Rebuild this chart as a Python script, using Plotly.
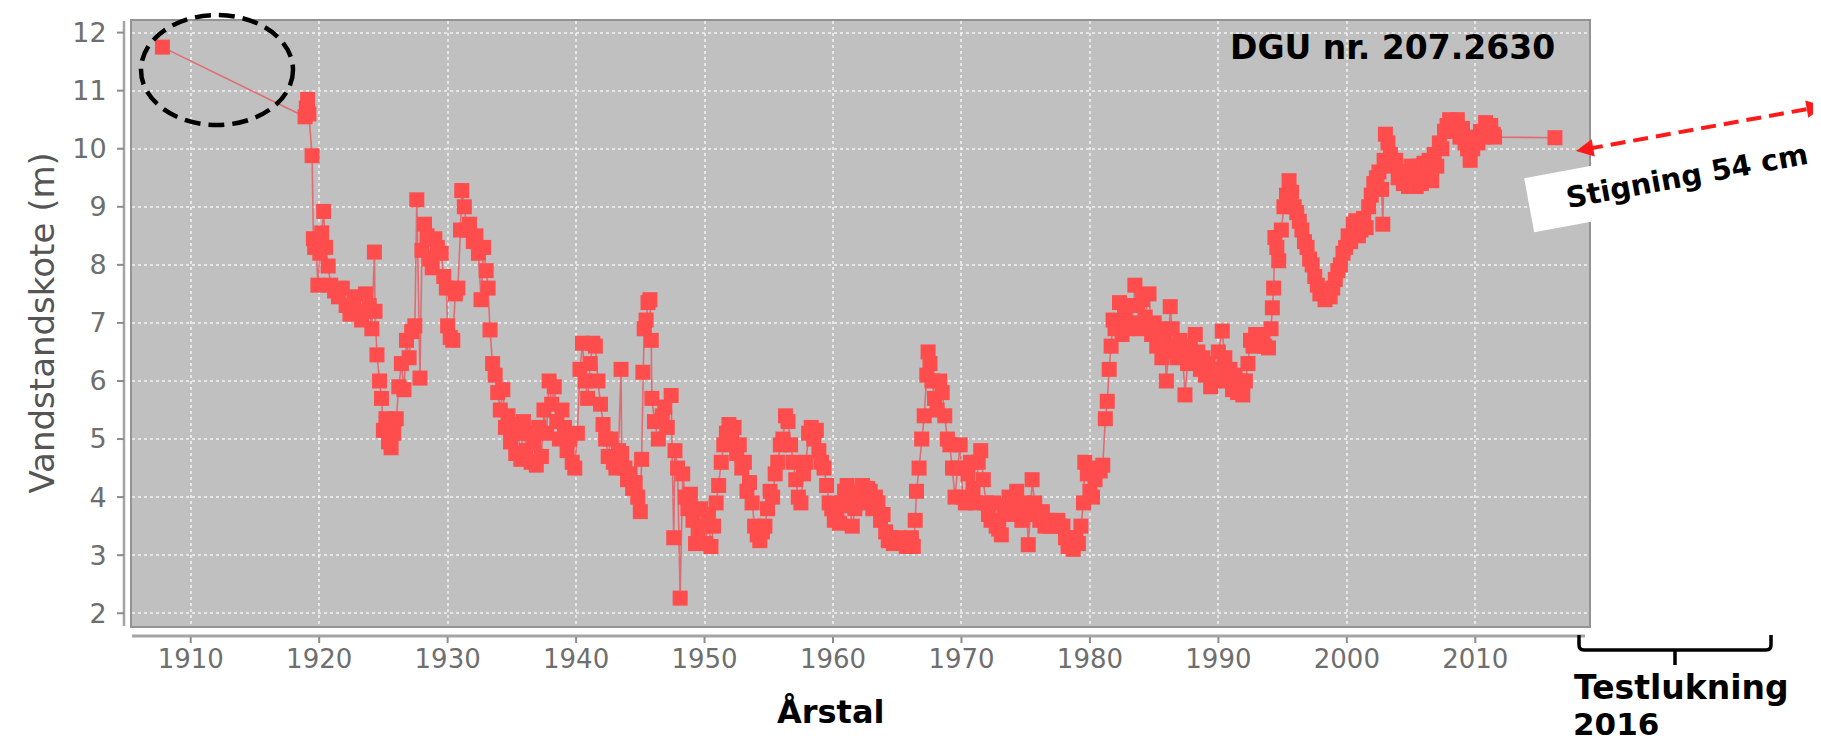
import plotly.graph_objects as go

# ---------------- data ----------------
years_a = [1907.8, 1918.9, 1919.0, 1919.1, 1919.2, 1919.45, 1919.55, 1919.65, 1919.75, 1919.9,
           1920.05, 1920.2, 1920.35, 1920.5, 1920.7, 1920.9]
levels_a = [11.75, 10.55, 10.7, 10.85, 10.6, 9.88, 8.45, 8.3, 8.4, 7.65,
            8.2, 8.55, 8.92, 8.3, 7.98, 7.65]

years_b = [1921.2, 1921.5, 1921.8, 1922.1, 1922.4, 1922.7, 1923.0, 1923.3, 1923.6, 1923.9,
           1924.1, 1924.3, 1924.35, 1924.5, 1924.7, 1924.85, 1925.0, 1925.2, 1925.4, 1925.6,
           1925.8, 1926.0, 1926.2, 1926.4, 1926.6, 1926.8, 1927.0, 1927.2, 1927.45, 1927.6,
           1927.85]
levels_b = [7.55, 7.45, 7.6, 7.3, 7.15, 7.45, 7.2, 7.05, 7.5, 7.3,
            6.9, 8.22, 7.2, 6.45, 6.0, 5.7, 5.15, 5.35, 4.95, 4.85,
            5.1, 5.35, 5.9, 6.3, 5.85, 6.7, 6.4, 6.85, 6.95, 9.12,
            6.05]

years_c = [1928.0, 1928.2, 1928.4, 1928.6, 1928.8, 1929.0, 1929.2, 1929.5, 1929.7, 1929.9,
           1930.0, 1930.2, 1930.4, 1930.6, 1930.8, 1931.0, 1931.1, 1931.3, 1931.5, 1931.7,
           1932.0, 1932.2, 1932.4, 1932.6, 1932.8, 1933.0, 1933.15, 1933.3, 1933.5, 1933.7]
levels_c = [8.25, 8.7, 8.5, 8.1, 7.95, 8.45, 8.3, 8.2, 7.8, 7.6,
            6.95, 6.75, 6.7, 7.5, 7.6, 8.6, 9.28, 9.0, 8.6, 8.7,
            8.4, 8.5, 8.2, 7.4, 8.3, 7.9, 7.6, 6.88, 6.3, 6.1]

years_d = [1933.9, 1934.1, 1934.3, 1934.5, 1934.7, 1934.9, 1935.1, 1935.3, 1935.5, 1935.7,
           1935.9, 1936.1, 1936.3, 1936.5, 1936.7, 1936.9, 1937.1, 1937.3, 1937.5, 1937.7,
           1937.9, 1938.1, 1938.3, 1938.5, 1938.7, 1938.9, 1939.1, 1939.3, 1939.5, 1939.7,
           1939.9, 1940.1, 1940.3, 1940.5, 1940.7, 1940.9, 1941.1, 1941.3, 1941.5, 1941.7,
           1941.9, 1942.1, 1942.3, 1942.5, 1942.7, 1942.9, 1943.1, 1943.3, 1943.5, 1943.55,
           1943.8, 1944.0, 1944.2, 1944.4, 1944.6, 1944.8, 1945.0, 1945.1, 1945.2, 1945.3,
           1945.45, 1945.6, 1945.75, 1945.85, 1945.9]
levels_d = [5.8, 5.5, 5.85, 5.2, 5.4, 4.95, 5.25, 4.75, 5.1, 4.65,
            5.3, 4.8, 5.1, 4.6, 4.95, 4.55, 5.2, 4.7, 5.5, 5.1,
            6.0, 5.6, 5.9, 5.3, 5.0, 5.5, 5.2, 4.8, 5.0, 4.6,
            4.5, 5.1, 6.2, 6.65, 6.0, 5.7, 6.3, 6.65, 6.6, 6.0,
            5.6, 5.25, 5.0, 4.7, 5.0, 4.6, 4.5, 4.8, 6.2, 4.75,
            4.5, 4.3, 4.4, 4.15, 4.25, 4.0, 3.75, 4.65, 6.15, 6.9,
            7.05, 7.35, 7.4, 6.7, 5.7]

years_e = [1946.1, 1946.4, 1946.7, 1946.9, 1947.1, 1947.4, 1947.6, 1947.7, 1947.9, 1948.1,
           1948.3, 1948.5, 1948.7, 1948.9, 1949.1, 1949.3, 1949.5, 1949.7, 1949.9, 1950.1,
           1950.3, 1950.5, 1950.7, 1950.9, 1951.1, 1951.3, 1951.5, 1951.7, 1951.9, 1952.1,
           1952.3, 1952.5, 1952.7, 1952.9, 1953.1, 1953.3, 1953.5, 1953.7, 1953.9, 1954.1,
           1954.3, 1954.5, 1954.7, 1954.9, 1955.1, 1955.3, 1955.5, 1955.7, 1955.9, 1956.1,
           1956.3, 1956.5, 1956.7, 1956.9, 1957.1, 1957.3, 1957.5, 1957.7, 1957.9, 1958.1,
           1958.3, 1958.5, 1958.7, 1958.9, 1959.1, 1959.3, 1959.5, 1959.7, 1959.9, 1960.1,
           1960.3, 1960.5, 1960.7]
levels_e = [5.3, 5.0, 5.4, 5.55, 5.2, 5.75, 3.3, 4.8, 4.5, 2.26,
            4.4, 4.0, 3.8, 4.05, 3.6, 3.2, 3.4, 3.8, 3.5, 3.2,
            3.7, 3.15, 3.5, 3.9, 4.2, 4.6, 4.9, 5.1, 5.25, 4.95,
            5.2, 4.75, 4.9, 4.5, 4.6, 4.1, 4.25, 3.9, 3.5, 3.35,
            3.25, 3.4, 3.5, 3.8, 4.1, 4.0, 4.4, 4.6, 4.9, 5.0,
            5.4, 5.3, 4.9, 4.6, 4.3, 4.0, 3.9, 4.4, 4.6, 5.1,
            5.2, 5.0, 5.15, 4.8, 4.6, 4.5, 4.2, 3.9, 3.8, 3.6,
            3.75, 3.55, 3.9]

years_f = [1960.9, 1961.1, 1961.3, 1961.5, 1961.7, 1961.9, 1962.1, 1962.3, 1962.5, 1962.7,
           1962.9, 1963.1, 1963.3, 1963.5, 1963.7, 1963.9, 1964.1, 1964.3, 1964.5, 1964.7,
           1964.9, 1965.1, 1965.3, 1965.5, 1965.7, 1965.9, 1966.1, 1966.25, 1966.4, 1966.5,
           1966.7, 1966.9, 1967.1, 1967.3, 1967.4, 1967.55, 1967.7, 1967.9, 1968.1, 1968.3,
           1968.5, 1968.7, 1968.9, 1969.1, 1969.3, 1969.5, 1969.7, 1969.9, 1970.1, 1970.3,
           1970.5, 1970.7, 1970.9, 1971.1, 1971.3, 1971.5, 1971.7, 1971.9, 1972.1, 1972.3,
           1972.5, 1972.7, 1972.9, 1973.1, 1973.3, 1973.5, 1973.7, 1973.9, 1974.1, 1974.3,
           1974.5, 1974.7, 1974.9, 1975.1, 1975.2, 1975.4, 1975.5, 1975.7, 1975.9, 1976.1,
           1976.3, 1976.5, 1976.7, 1976.9, 1977.1, 1977.3, 1977.5, 1977.7, 1977.9, 1978.1,
           1978.3, 1978.5, 1978.7, 1978.9, 1979.1, 1979.3, 1979.5, 1979.6, 1979.8, 1980.0,
           1980.2, 1980.4, 1980.6, 1980.8, 1981.0, 1981.2, 1981.35, 1981.5, 1981.65, 1981.8,
           1981.95]
levels_f = [4.1, 4.2, 3.85, 3.5, 3.8, 4.1, 4.0, 4.2, 3.9, 4.15,
            4.1, 3.8, 4.0, 3.9, 3.6, 3.7, 3.4, 3.25, 3.3, 3.2,
            3.25, 3.3, 3.2, 3.25, 3.15, 3.2, 3.3, 3.15, 3.6, 4.1,
            4.5, 5.0, 5.4, 6.1, 6.5, 6.3, 6.0, 5.7, 5.5, 6.0,
            5.8, 5.4, 5.0, 4.9, 4.5, 4.0, 4.5, 4.9, 4.0, 3.9,
            4.4, 4.6, 4.15, 3.9, 4.6, 4.8, 4.3, 3.9, 3.7, 3.6,
            3.9, 3.5, 3.45, 3.35, 3.7, 3.85, 4.0, 3.7, 3.9, 4.1,
            3.8, 3.6, 3.9, 3.7, 3.18, 3.8, 4.3, 3.9, 3.7, 3.6,
            3.75, 3.5, 3.6, 3.5, 3.55, 3.5, 3.6, 3.5, 3.5, 3.3,
            3.15, 3.2, 3.1, 3.3, 3.2, 3.5, 3.9, 4.6, 4.4, 4.1,
            4.0, 4.3, 4.5, 4.45, 4.55, 5.35, 5.65, 6.2, 6.6, 7.05,
            6.9]

years_g = [1982.1, 1982.3, 1982.5, 1982.7, 1982.9, 1983.1, 1983.3, 1983.5, 1983.7, 1983.9,
           1984.1, 1984.3, 1984.6, 1984.8, 1985.0, 1985.2, 1985.4, 1985.6, 1985.8, 1985.95,
           1986.1, 1986.25, 1986.4, 1986.6, 1986.8, 1987.0, 1987.2, 1987.4, 1987.6, 1987.8,
           1988.0, 1988.2, 1988.4, 1988.6, 1988.8, 1989.0, 1989.2, 1989.4, 1989.6, 1989.8,
           1990.0, 1990.3, 1990.5, 1990.7, 1990.9, 1991.1, 1991.3, 1991.5, 1991.7, 1991.9,
           1992.1, 1992.3, 1992.5, 1992.7, 1992.9, 1993.1, 1993.4, 1993.6, 1993.9, 1994.1,
           1994.2, 1994.3, 1994.4, 1994.55, 1994.7, 1994.9, 1995.1, 1995.3, 1995.5, 1995.7,
           1995.9, 1996.1, 1996.3, 1996.5, 1996.7, 1996.9, 1997.1, 1997.3, 1997.5, 1997.7,
           1997.9, 1998.1, 1998.3, 1998.5, 1998.7, 1998.9, 1999.1, 1999.3, 1999.5, 1999.7,
           1999.9, 2000.1, 2000.3, 2000.5, 2000.7, 2000.9, 2001.1, 2001.3, 2001.5, 2001.7,
           2001.9, 2002.1, 2002.3, 2002.5, 2002.7, 2002.8, 2002.9, 2003.0, 2003.2, 2003.4,
           2003.6, 2003.8, 2004.0, 2004.2, 2004.4, 2004.6, 2004.8, 2005.0, 2005.2, 2005.4,
           2005.6, 2005.8, 2006.0, 2006.2, 2006.4, 2006.6, 2006.8, 2007.0, 2007.2, 2007.4,
           2007.6, 2007.8, 2008.0, 2008.2, 2008.4, 2008.6, 2008.8, 2009.0, 2009.2, 2009.4,
           2009.6, 2009.8, 2010.0, 2010.2, 2010.4, 2010.6, 2010.8, 2011.0, 2011.2, 2011.4,
           2011.5, 2016.2]
levels_g = [7.0, 7.35, 6.8, 7.1, 6.9, 7.3, 7.0, 7.65, 7.3, 6.9,
            7.4, 7.1, 7.5, 6.8, 7.0, 6.6, 6.9, 6.4, 6.7, 6.0,
            6.5, 7.28, 6.9, 6.6, 6.4, 6.7, 6.5, 5.76, 6.3, 6.6,
            6.4, 6.8, 6.5, 6.2, 6.4, 6.1, 6.3, 5.9, 6.0, 6.2,
            6.5, 6.86, 6.4, 6.0, 6.2, 5.85, 6.1, 5.8, 6.0, 5.76,
            6.0, 6.3, 6.7, 6.6, 6.8, 6.65, 6.8, 6.6, 6.57, 6.9,
            7.26, 7.6, 8.47, 8.3, 8.07, 8.6, 9.0, 9.2, 9.45, 9.25,
            9.0, 8.9, 8.75, 8.6, 8.4, 8.3, 8.1, 8.0, 7.8, 7.65,
            7.5, 7.55, 7.4, 7.5, 7.45, 7.6, 7.75, 7.9, 8.0, 8.2,
            8.3, 8.5, 8.4, 8.7, 8.76, 8.5, 8.6, 8.8, 8.64, 9.0,
            9.2, 9.4, 9.5, 9.6, 9.3, 8.7, 9.8, 10.25, 10.1, 9.9,
            9.7, 9.8, 9.5, 9.6, 9.4, 9.6, 9.35, 9.7, 9.5, 9.35,
            9.7, 9.4, 9.75, 9.5, 9.8, 9.45, 9.9, 9.7, 10.1, 10.0,
            10.3, 10.4, 10.5, 10.45, 10.3, 10.5, 10.2, 10.35, 10.1, 10.0,
            9.8, 10.0, 10.2, 10.1, 10.3, 10.2, 10.45, 10.3, 10.4, 10.25,
            10.2, 10.19]

x_ticks = [1910, 1920, 1930, 1940, 1950, 1960, 1970, 1980, 1990, 2000, 2010]
y_ticks = [2, 3, 4, 5, 6, 7, 8, 9, 10, 11, 12]

years = years_a + years_b + years_c + years_d + years_e + years_f + years_g
levels = levels_a + levels_b + levels_c + levels_d + levels_e + levels_f + levels_g
assert len(years) == len(levels)

# ---------------- layout geometry ----------------
W, H = 1821, 741
L, R, T, B = 124, 240, 13, 123
PW, PH = W - L - R, H - T - B


def px(x):
    return (x - L) / PW


def py(y):
    return (H - B - y) / PH


RED = "#ff4c4c"
AXIS_GREY = "#a4a4a4"
GRID = "rgba(255,255,255,0.6)"

fig = go.Figure()
fig.add_trace(go.Scatter(
    x=years, y=levels, mode="lines+markers",
    line=dict(color="rgba(235,80,90,0.75)", width=1.6),
    marker=dict(symbol="square", size=15, color=RED, line=dict(width=0)),
    hoverinfo="skip", showlegend=False,
))

shapes = []
# offset axis lines (JFreeChart style)
shapes.append(dict(type="line", xref="paper", yref="paper", x0=0, x1=px(1577),
                   y0=py(628), y1=py(628), line=dict(color=AXIS_GREY, width=3)))
shapes.append(dict(type="line", xref="paper", yref="paper", x0=px(116), x1=px(116),
                   y0=0, y1=1, line=dict(color=AXIS_GREY, width=2.5)))
for t in x_ticks:
    shapes.append(dict(type="line", xref="x", yref="paper", x0=t, x1=t,
                       y0=py(629), y1=py(635), line=dict(color="#8c8c8c", width=2)))
for v in y_ticks:
    shapes.append(dict(type="line", xref="paper", yref="y", x0=px(109), x1=px(116),
                       y0=v, y1=v, line=dict(color="#8c8c8c", width=2)))

# dashed ellipse around the first measurement
shapes.append(dict(type="circle", xref="paper", yref="paper",
                   x0=px(133), x1=px(285), y0=py(117), y1=py(7),
                   line=dict(color="black", width=4.5, dash="16px,8px")))

# bracket under the axis ("Testlukning 2016")
bx0, bx1, bxm, btop, bbot, btip = 1571, 1763, 1667, 627, 642, 657
path = (f"M {px(bx0)},{py(btop)} L {px(bx0)},{py(bbot-5)} "
        f"Q {px(bx0)},{py(bbot)} {px(bx0+5)},{py(bbot)} "
        f"L {px(bx1-5)},{py(bbot)} Q {px(bx1)},{py(bbot)} {px(bx1)},{py(bbot-5)} "
        f"L {px(bx1)},{py(btop)} "
        f"M {px(bxm)},{py(bbot)} L {px(bxm)},{py(btip)}")
shapes.append(dict(type="path", xref="paper", yref="paper", path=path,
                   line=dict(color="black", width=3.5)))

# dashed red arrow shaft
ax0, ay0, ax1, ay1 = 1568, 143, 1816, 98
shapes.append(dict(type="line", xref="paper", yref="paper",
                   x0=px(ax0 + 12), y0=py(ay0 - 2.2), x1=px(ax1 - 12), y1=py(ay1 + 2.2),
                   line=dict(color="#ff1a1a", width=4, dash="15px,8px")))

annotations = [
    dict(text="Vandstandskote (m)", xref="paper", yref="paper", x=px(33), y=0.5,
         textangle=-90, showarrow=False, xanchor="center", yanchor="middle",
         font=dict(family="DejaVu Sans", size=34, color="#555555")),
    dict(text="<b>Årstal</b>", xref="paper", yref="paper", x=px(822), y=py(704),
         showarrow=False, xanchor="center", yanchor="middle",
         font=dict(family="DejaVu Sans", size=32, color="black")),
    dict(text="<b>DGU nr. 207.2630</b>", xref="paper", yref="paper", x=px(1549), y=py(40),
         showarrow=False, xanchor="right", yanchor="middle",
         font=dict(family="DejaVu Sans", size=33, color="black")),
    dict(text="<b>Stigning 54 cm</b>", xref="paper", yref="paper", x=px(1679), y=py(168),
         showarrow=False, xanchor="center", yanchor="middle", textangle=-10.5,
         bgcolor="white", borderpad=10, width=300, align="center",
         font=dict(family="DejaVu Sans", size=29, color="black")),
    dict(text="<b>Testlukning</b>", xref="paper", yref="paper", x=px(1564), y=py(679),
         showarrow=False, xanchor="left", yanchor="middle",
         font=dict(family="DejaVu Sans", size=33, color="black")),
    dict(text="<b>2016</b>", xref="paper", yref="paper", x=px(1564), y=py(716),
         showarrow=False, xanchor="left", yanchor="middle", borderpad=0,
         font=dict(family="DejaVu Sans", size=31, color="black")),
    # arrow heads of the double arrow
    dict(text="", xref="paper", yref="paper", x=px(ax0), y=py(ay0),
         showarrow=True, arrowhead=2, arrowsize=1, arrowwidth=3.5, arrowcolor="#ff1a1a",
         ax=15, ay=-2.7, standoff=0),
    dict(text="", xref="paper", yref="paper", x=px(ax1), y=py(ay1),
         showarrow=True, arrowhead=2, arrowsize=1, arrowwidth=3.5, arrowcolor="#ff1a1a",
         ax=-15, ay=2.7, standoff=0),
]

fig.update_layout(
    width=W, height=H,
    margin=dict(l=L, r=R, t=T, b=B, autoexpand=False),
    paper_bgcolor="white",
    plot_bgcolor="rgb(192,192,192)",
    shapes=shapes,
    annotations=annotations,
    showlegend=False,
)
fig.update_xaxes(
    range=[1905.43, 2018.85], tickvals=x_ticks, ticktext=[str(t) for t in x_ticks],
    showgrid=True, gridcolor=GRID, gridwidth=1.5, griddash="dot",
    zeroline=False, showline=True, mirror=True, linecolor="#939393", linewidth=2,
    ticks="outside", ticklen=9, tickcolor="rgba(0,0,0,0)",
    tickfont=dict(family="DejaVu Sans", size=26, color="#6e6e6e"),
)
fig.update_yaxes(
    range=[1.78, 12.2], tickvals=y_ticks, ticktext=[str(v) for v in y_ticks],
    showgrid=True, gridcolor=GRID, gridwidth=1.5, griddash="dot",
    zeroline=False, showline=True, mirror=True, linecolor="#939393", linewidth=2,
    ticks="outside", ticklen=18, tickcolor="rgba(0,0,0,0)",
    tickfont=dict(family="DejaVu Sans", size=27, color="#6e6e6e"),
)

fig.write_html("out.html", config={"displayModeBar": False})
